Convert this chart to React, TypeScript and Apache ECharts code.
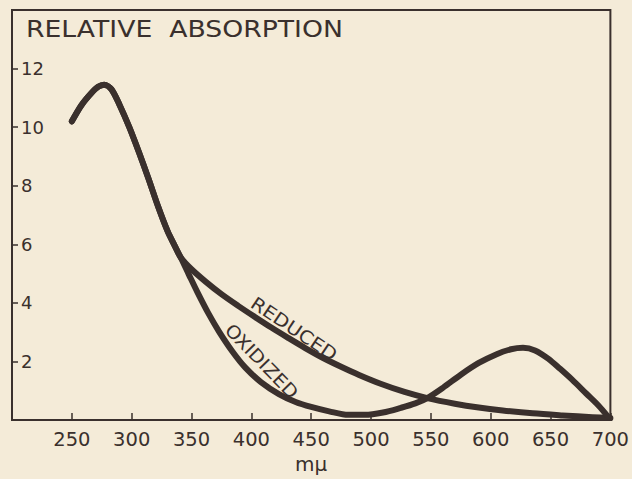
import React, { useEffect, useRef } from "react";
import * as echarts from "echarts";

// Shared (both curves coincide) up to the split near 341 mμ
const sharedX = [250, 258, 266, 272, 277, 283, 290, 298, 306, 314, 322, 330, 336, 341];
const sharedY = [10.2, 10.75, 11.15, 11.38, 11.45, 11.3, 10.75, 10.0, 9.15, 8.25, 7.3, 6.45, 5.95, 5.55];

const reducedX = [350, 362, 375, 389, 403, 417, 431, 445, 460, 475, 490, 508, 528, 547, 570, 590, 610, 635, 660, 685, 700];
const reducedY = [5.15, 4.72, 4.3, 3.9, 3.52, 3.15, 2.8, 2.46, 2.12, 1.82, 1.54, 1.24, 0.96, 0.75, 0.56, 0.43, 0.33, 0.23, 0.16, 0.1, 0.07];

const oxidizedX = [348, 355, 364, 373, 384, 395, 408, 423, 437, 450, 465, 481, 495, 510, 525, 537, 547, 560, 575, 590, 605, 617, 627, 637, 648, 658, 668, 680, 690, 698];
const oxidizedY = [4.95, 4.36, 3.65, 3.02, 2.35, 1.79, 1.3, 0.89, 0.62, 0.45, 0.3, 0.18, 0.18, 0.26, 0.42, 0.57, 0.75, 1.1, 1.55, 1.95, 2.25, 2.42, 2.47, 2.38, 2.1, 1.75, 1.38, 0.9, 0.5, 0.12];

const xMin = 200;
const xMax = 700;
const xStep = 50;
const yMin = 0;
const yMax = 14;
const yStep = 2;

const titleText = "RELATIVE  ABSORPTION";
const xName = "mμ";
const reducedLabel = "REDUCED";
const oxidizedLabel = "OXIDIZED";

const INK = "#3a302d";
const BG = "#f4ebd8";
const FONT = "DejaVu Sans";

function pairs(xs: number[], ys: number[]) {
  return xs.map((x, i) => [x, ys[i]]);
}

export default function App() {
  const ref = useRef<HTMLDivElement>(null);
  useEffect(() => {
    document.body.style.margin = "0";
    document.body.style.background = BG;
    const chart = echarts.init(ref.current!, null, { renderer: "svg" });
    const reduced = pairs(sharedX, sharedY).concat(pairs(reducedX, reducedY));
    const oxidized = pairs(sharedX, sharedY).concat(pairs(oxidizedX, oxidizedY));
    const lineStyle = { color: INK, width: 6, cap: "round", join: "round" };
    chart.setOption({
      animation: false,
      backgroundColor: BG,
      grid: {
        left: 12,
        top: 10,
        right: 17,
        bottom: 48,
        show: true,
        borderColor: INK,
        borderWidth: 2,
        backgroundColor: "transparent",
      },
      xAxis: {
        type: "value",
        min: xMin,
        max: xMax,
        interval: xStep,
        name: xName,
        nameLocation: "middle",
        nameGap: 31,
        nameTextStyle: { color: INK, fontFamily: FONT, fontSize: 20 },
        axisLine: { show: true, lineStyle: { color: INK, width: 2 } },
        axisTick: { show: true, inside: true, length: 7, lineStyle: { color: INK, width: 1.5 } },
        axisLabel: {
          color: INK,
          fontFamily: FONT,
          fontSize: 19.5,
          margin: 9,
          showMinLabel: false,
        },
        splitLine: { show: false },
      },
      yAxis: {
        type: "value",
        min: yMin,
        max: yMax,
        interval: yStep,
        axisLine: { show: true, lineStyle: { color: INK, width: 2 } },
        axisTick: { show: true, inside: true, length: 6, lineStyle: { color: INK, width: 1.5 } },
        axisLabel: {
          inside: true,
          color: INK,
          fontFamily: FONT,
          fontSize: 18,
          margin: 9,
          showMinLabel: false,
          showMaxLabel: false,
        },
        splitLine: { show: false },
      },
      series: [
        {
          type: "line",
          name: "Reduced",
          data: reduced,
          smooth: 0.3,
          showSymbol: false,
          lineStyle,
        },
        {
          type: "line",
          name: "Oxidized",
          data: oxidized,
          smooth: 0.3,
          showSymbol: false,
          lineStyle,
        },
      ],
      graphic: [
        {
          type: "text",
          x: 26,
          y: 29,
          scaleX: 1.16,
          style: {
            text: titleText,
            fill: INK,
            font: `23px '${FONT}'`,
            textAlign: "left",
            textVerticalAlign: "middle",
          },
        },
        {
          type: "text",
          x: 294,
          y: 329,
          rotation: -0.59,
          scaleX: 1.12,
          style: {
            text: reducedLabel,
            fill: INK,
            font: `18px '${FONT}'`,
            textAlign: "center",
            textVerticalAlign: "middle",
          },
        },
        {
          type: "text",
          x: 262,
          y: 361,
          rotation: -0.8,
          scaleX: 1.1,
          style: {
            text: oxidizedLabel,
            fill: INK,
            font: `18px '${FONT}'`,
            textAlign: "center",
            textVerticalAlign: "middle",
          },
        },
      ],
    });
    return () => chart.dispose();
  }, []);
  return <div ref={ref} style={{ width: 632, height: 479, position: "absolute", left: 0, top: 0 }} />;
}
